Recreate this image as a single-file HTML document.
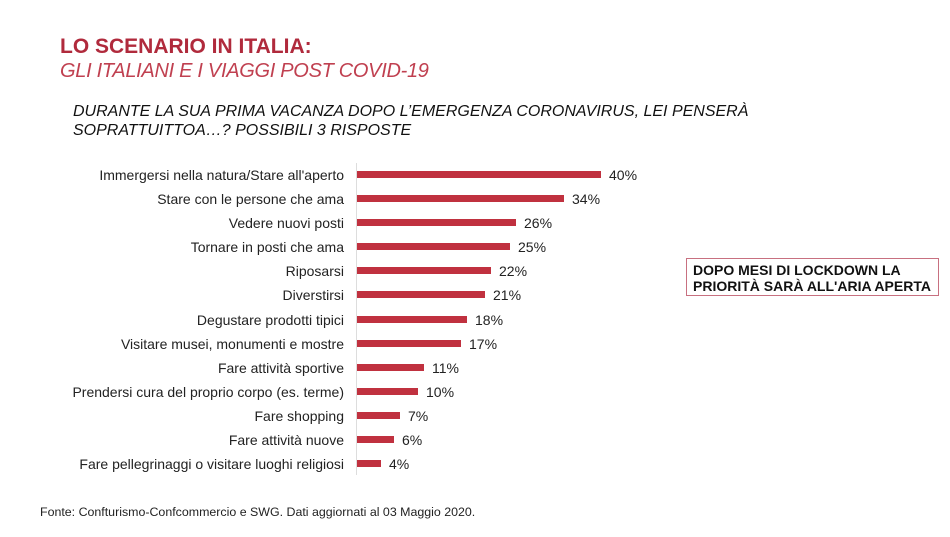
<!DOCTYPE html>
<html><head><meta charset="utf-8"><style>
body{margin:0;width:950px;height:537px;background:#fff;position:relative;overflow:hidden;font-family:"Liberation Sans",sans-serif;}
.a{position:absolute;white-space:nowrap;}
.lab{position:absolute;right:606px;font-size:14px;color:#222;line-height:14px;white-space:nowrap;}
.bar{position:absolute;left:357px;height:7px;background:#c0313f;}
.val{position:absolute;font-size:14px;color:#222;line-height:14px;}
</style></head><body>
<div class="a" style="left:60px;top:35px;font-size:21px;font-weight:bold;color:#b02a3c;">LO SCENARIO IN ITALIA:</div>
<div class="a" style="left:60px;top:60px;font-size:20px;font-style:italic;color:#c04050;letter-spacing:-0.3px;">GLI ITALIANI E I VIAGGI POST COVID-19</div>
<div class="a" style="left:73px;top:102px;font-size:16px;font-style:italic;color:#111;line-height:19px;">DURANTE LA SUA PRIMA VACANZA DOPO L’EMERGENZA CORONAVIRUS, LEI PENSERÀ<br>SOPRATTUITTOA…? POSSIBILI 3 RISPOSTE</div>
<div class="a" style="left:356px;top:163px;width:1px;height:312px;background:#ddd;"></div>
<div class="lab" style="top:168px">Immergersi nella natura/Stare all'aperto</div><div class="bar" style="top:171px;width:244px"></div><div class="val" style="left:609px;top:168px">40%</div>
<div class="lab" style="top:192px">Stare con le persone che ama</div><div class="bar" style="top:195px;width:207px"></div><div class="val" style="left:572px;top:192px">34%</div>
<div class="lab" style="top:216px">Vedere nuovi posti</div><div class="bar" style="top:219px;width:159px"></div><div class="val" style="left:524px;top:216px">26%</div>
<div class="lab" style="top:240px">Tornare in posti che ama</div><div class="bar" style="top:243px;width:153px"></div><div class="val" style="left:518px;top:240px">25%</div>
<div class="lab" style="top:264px">Riposarsi</div><div class="bar" style="top:267px;width:134px"></div><div class="val" style="left:499px;top:264px">22%</div>
<div class="lab" style="top:288px">Diverstirsi</div><div class="bar" style="top:291px;width:128px"></div><div class="val" style="left:493px;top:288px">21%</div>
<div class="lab" style="top:313px">Degustare prodotti tipici</div><div class="bar" style="top:316px;width:110px"></div><div class="val" style="left:475px;top:313px">18%</div>
<div class="lab" style="top:337px">Visitare musei, monumenti e mostre</div><div class="bar" style="top:340px;width:104px"></div><div class="val" style="left:469px;top:337px">17%</div>
<div class="lab" style="top:361px">Fare attività sportive</div><div class="bar" style="top:364px;width:67px"></div><div class="val" style="left:432px;top:361px">11%</div>
<div class="lab" style="top:385px">Prendersi cura del proprio corpo (es. terme)</div><div class="bar" style="top:388px;width:61px"></div><div class="val" style="left:426px;top:385px">10%</div>
<div class="lab" style="top:409px">Fare shopping</div><div class="bar" style="top:412px;width:43px"></div><div class="val" style="left:408px;top:409px">7%</div>
<div class="lab" style="top:433px">Fare attività nuove</div><div class="bar" style="top:436px;width:37px"></div><div class="val" style="left:402px;top:433px">6%</div>
<div class="lab" style="top:457px">Fare pellegrinaggi o visitare luoghi religiosi</div><div class="bar" style="top:460px;width:24px"></div><div class="val" style="left:389px;top:457px">4%</div>
<div class="a" style="left:686px;top:258px;width:245px;height:33px;border:1.5px solid #c87080;font-size:14px;font-weight:bold;color:#111;line-height:16px;padding:3px 0 0 6px;box-sizing:content-box;">DOPO MESI DI LOCKDOWN LA<br>PRIORITÀ SARÀ ALL'ARIA APERTA</div>
<div class="a" style="left:40px;top:505px;font-size:12.4px;color:#222;">Fonte: Confturismo-Confcommercio e SWG. Dati aggiornati al 03 Maggio 2020.</div>
</body></html>
